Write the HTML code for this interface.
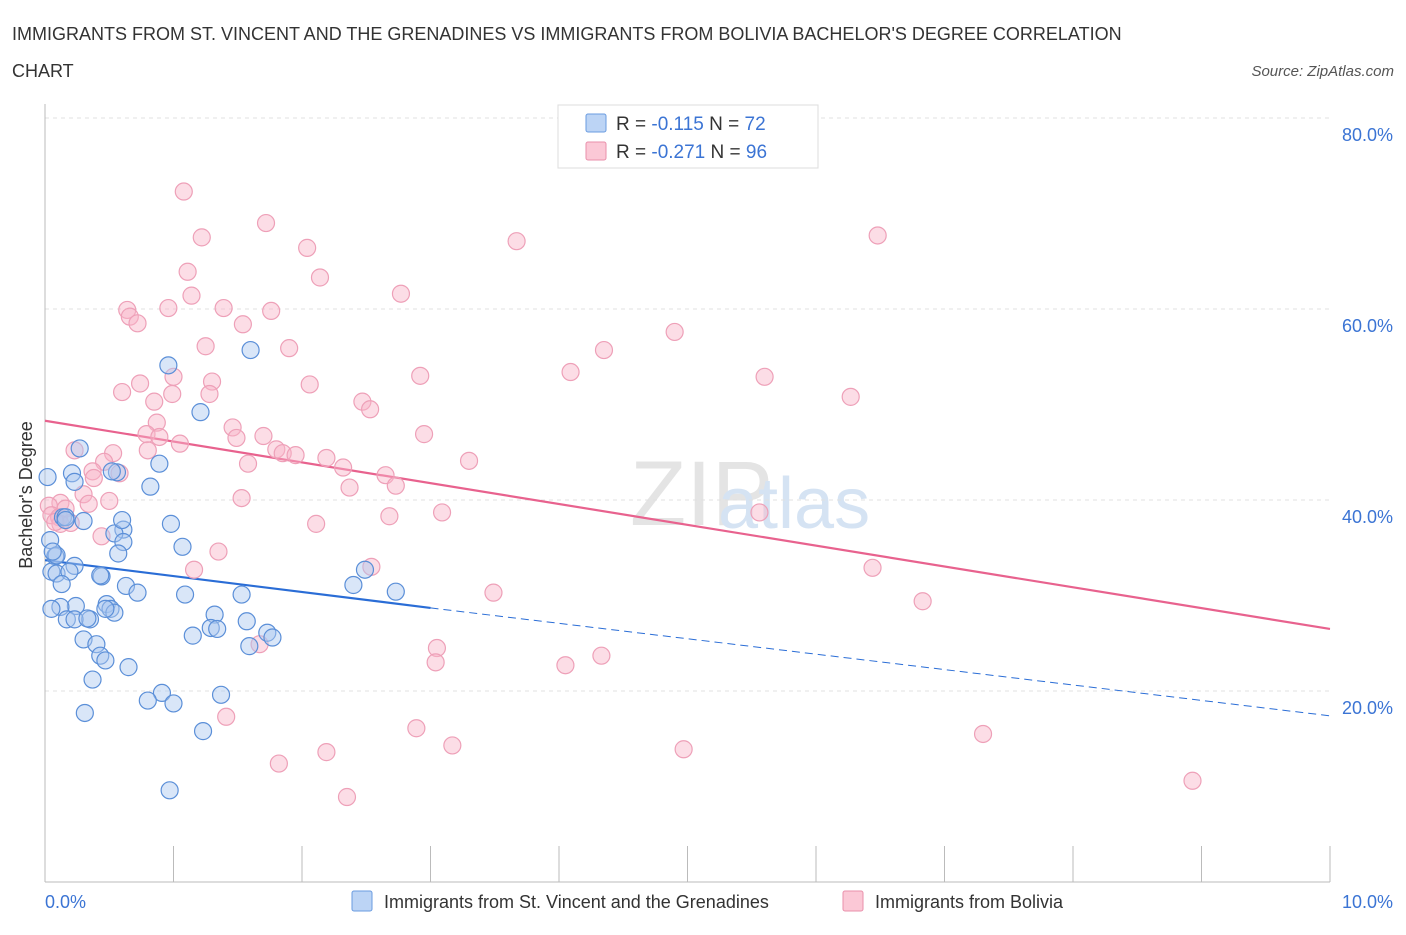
<!DOCTYPE html>
<html><head><meta charset="utf-8">
<style>
body{margin:0;background:#fff;font-family:"Liberation Sans",sans-serif;}
svg text{font-family:"Liberation Sans",sans-serif;}
</style></head><body>
<svg id="chart" width="1406" height="930" xmlns="http://www.w3.org/2000/svg">
<text x="12" y="40" font-size="18" fill="#333">IMMIGRANTS FROM ST. VINCENT AND THE GRENADINES VS IMMIGRANTS FROM BOLIVIA BACHELOR'S DEGREE CORRELATION</text>
<text x="12" y="77" font-size="18" fill="#333">CHART</text>
<text x="1394" y="76" font-size="15" fill="#555" font-style="italic" text-anchor="end">Source: ZipAtlas.com</text>
<text x="630" y="525" font-size="92" fill="#e4e4e4" font-family="Liberation Serif">ZIP</text>
<text x="718" y="528" font-size="72" fill="#d5e3f3">atlas</text>
<g id="grid"></g>
<g id="axes"></g>
<g id="trends"></g>
<g id="pts"></g>
<text x="32" y="495" font-size="18" fill="#333" text-anchor="middle" transform="rotate(-90 32 495)">Bachelor's Degree</text>
<g>
<rect x="558" y="105" width="260" height="63" fill="#fff" stroke="#ddd"/>
<rect x="586" y="114" width="20" height="18" fill="#bcd4f5" stroke="#6a9be0" rx="2"/>
<rect x="586" y="142" width="20" height="18" fill="#fbc8d6" stroke="#e98fab" rx="2"/>
<text x="616" y="130" font-size="19" fill="#333">R = <tspan fill="#3b74d4">-0.115</tspan>   N = <tspan fill="#3b74d4">72</tspan></text>
<text x="616" y="158" font-size="19" fill="#333">R = <tspan fill="#3b74d4">-0.271</tspan>   N = <tspan fill="#3b74d4">96</tspan></text>
</g>
<g>
<rect x="352" y="891" width="20" height="20" fill="#bcd4f5" stroke="#6a9be0" rx="2"/>
<text x="384" y="908" font-size="18" fill="#333">Immigrants from St. Vincent and the Grenadines</text>
<rect x="843" y="891" width="20" height="20" fill="#fbc8d6" stroke="#e98fab" rx="2"/>
<text x="875" y="908" font-size="18" fill="#333">Immigrants from Bolivia</text>
</g>
</svg>
<script>
const xTicks=[0,1,2,3,4,5,6,7,8,9,10];
const yTicks=[20,40,60,80];
const yTickLabels=["20.0%","40.0%","60.0%","80.0%"];
const blueX=[0.96,1.6,1.21,0.89,0.27,0.21,0.56,0.52,0.82,0.14,0.30,0.16,0.98,0.61,0.54,0.61,1.07,0.04,0.57,0.08,0.23,0.05,0.09,0.19,0.44,0.13,0.63,0.72,1.09,1.53,2.49,2.4,2.73,0.48,0.24,0.12,0.05,0.51,0.54,1.32,1.57,0.35,1.29,1.73,0.17,0.23,0.33,1.34,1.15,1.77,0.30,0.40,1.59,0.43,0.47,0.65,0.37,0.91,0.80,1.37,1.0,0.31,1.23,0.97,0.02,0.09,0.43,0.6,0.16,0.06,0.47,0.23];
const blueY=[54.1,55.7,49.2,43.8,45.4,42.8,42.9,43.0,41.4,38.2,37.8,38.2,37.5,36.9,36.5,35.6,35.1,35.8,34.4,34.1,33.1,32.5,32.3,32.5,32.0,31.2,31.0,30.3,30.1,30.1,32.7,31.1,30.4,29.1,28.9,28.8,28.6,28.6,28.2,28.0,27.3,27.5,26.6,26.1,27.5,27.5,27.6,26.5,25.8,25.6,25.4,24.9,24.7,23.7,23.2,22.5,21.2,19.8,19.0,19.6,18.7,17.7,15.8,9.6,42.4,34.2,32.1,37.9,37.9,34.6,28.6,41.9];
const pinkX=[1.08,1.72,1.22,2.04,3.67,6.48,2.14,1.11,2.77,1.14,0.64,0.96,1.39,1.76,0.66,0.72,1.54,4.9,1.25,1.9,4.35,1.0,2.92,4.09,5.6,0.74,1.3,2.06,0.6,0.99,1.28,6.27,0.85,2.47,2.53,0.87,1.46,0.79,0.89,1.49,1.7,2.95,1.05,0.53,0.23,1.8,1.85,1.95,0.8,0.46,2.19,3.3,1.58,0.37,2.32,2.65,0.58,0.38,2.73,2.37,0.5,1.53,0.30,0.12,0.03,0.34,0.05,0.11,0.16,0.12,0.2,3.09,2.68,5.56,2.11,0.44,1.35,2.54,6.44,1.16,3.49,6.83,1.67,3.05,4.33,3.04,4.05,1.41,2.89,7.3,3.17,4.97,2.19,1.82,8.93,2.35,0.08];
const pinkY=[72.3,69.0,67.5,66.4,67.1,67.7,63.3,63.9,61.6,61.4,59.9,60.1,60.1,59.8,59.2,58.5,58.4,57.6,56.1,55.9,55.7,52.9,53.0,53.4,52.9,52.2,52.4,52.1,51.3,51.1,51.1,50.8,50.3,50.3,49.5,48.1,47.6,46.9,46.6,46.5,46.7,46.9,45.9,44.9,45.2,45.3,44.9,44.7,45.2,44.0,44.4,44.1,43.8,43.0,43.4,42.6,42.8,42.3,41.5,41.3,39.9,40.2,40.6,39.7,39.4,39.6,38.4,38.2,39.1,37.5,37.6,38.7,38.3,38.7,37.5,36.2,34.6,33.0,32.9,32.7,30.3,29.4,24.9,24.5,23.7,23.0,22.7,17.3,16.1,15.5,14.3,13.9,13.6,12.4,10.6,8.9,37.7];
const blueTrend=[33.7,28.7,17.4];
const pinkTrend=[48.3,26.5];
const X0=45,X1=1330,Y0=882,Y80=118;
const sx=v=>X0+(X1-X0)*v/10, sy=v=>Y0-(Y0-Y80)*v/80;
const NS="http://www.w3.org/2000/svg";
function mk(t,a,p){const e=document.createElementNS(NS,t);for(const k in a)e.setAttribute(k,a[k]);p.appendChild(e);return e;}
const grid=document.getElementById('grid'),axes=document.getElementById('axes');
yTicks.forEach((v,i)=>{
 const l=mk('line',{x1:X0,x2:1330,y1:sy(v),y2:sy(v),stroke:'#e0e0e0','stroke-dasharray':'4 4'},grid);
 
 
 const t=mk('text',{x:1393,y:sy(v)+23,'font-size':18,fill:'#3b74d4','text-anchor':'end'},axes);
 t.textContent=yTickLabels[i];
 
 
});
mk('line',{x1:X0,x2:X0,y1:104,y2:Y0,stroke:'#bbb'},axes);
mk('line',{x1:X0,x2:X1,y1:Y0,y2:Y0,stroke:'#bbb'},axes);
xTicks.forEach(v=>{const l=mk('line',{x1:sx(v),x2:sx(v),y1:Y0,y2:Y0-36*(v>0&&v<10?1:0)+(v==0||v==10?0:0),stroke:'#bbb'},axes);
 if(v>0){l.setAttribute('y1',846);l.setAttribute('y2',Y0);}
 
 });
let t=mk('text',{x:45,y:908,'font-size':18,fill:'#3b74d4'},axes);t.textContent='0.0%';


t=mk('text',{x:1393,y:908,'font-size':18,fill:'#3b74d4','text-anchor':'end'},axes);t.textContent='10.0%';


const pts=document.getElementById('pts');
pinkX.forEach((x,i)=>{const c=mk('circle',{cx:sx(x),cy:sy(pinkY[i]),r:8.5,fill:'rgba(248,180,200,0.45)',stroke:'#eea0b8','stroke-width':1.2},pts);
 
 });
blueX.forEach((x,i)=>{const c=mk('circle',{cx:sx(x),cy:sy(blueY[i]),r:8.5,fill:'rgba(170,200,240,0.45)',stroke:'#5b8fd8','stroke-width':1.2},pts);
 
 });
const tr=document.getElementById('trends');
let l=mk('line',{x1:sx(0),y1:sy(blueTrend[0]),x2:sx(3),y2:sy(blueTrend[1]),stroke:'#2a6dd6','stroke-width':2.2},tr);


l=mk('line',{x1:sx(3),y1:sy(blueTrend[1]),x2:sx(10),y2:sy(blueTrend[2]),stroke:'#2a6dd6','stroke-width':1,'stroke-dasharray':'8 5'},tr);


l=mk('line',{x1:sx(0),y1:sy(pinkTrend[0]),x2:sx(10),y2:sy(pinkTrend[1]),stroke:'#e8628e','stroke-width':2.2},tr);


</script>
</body></html>
